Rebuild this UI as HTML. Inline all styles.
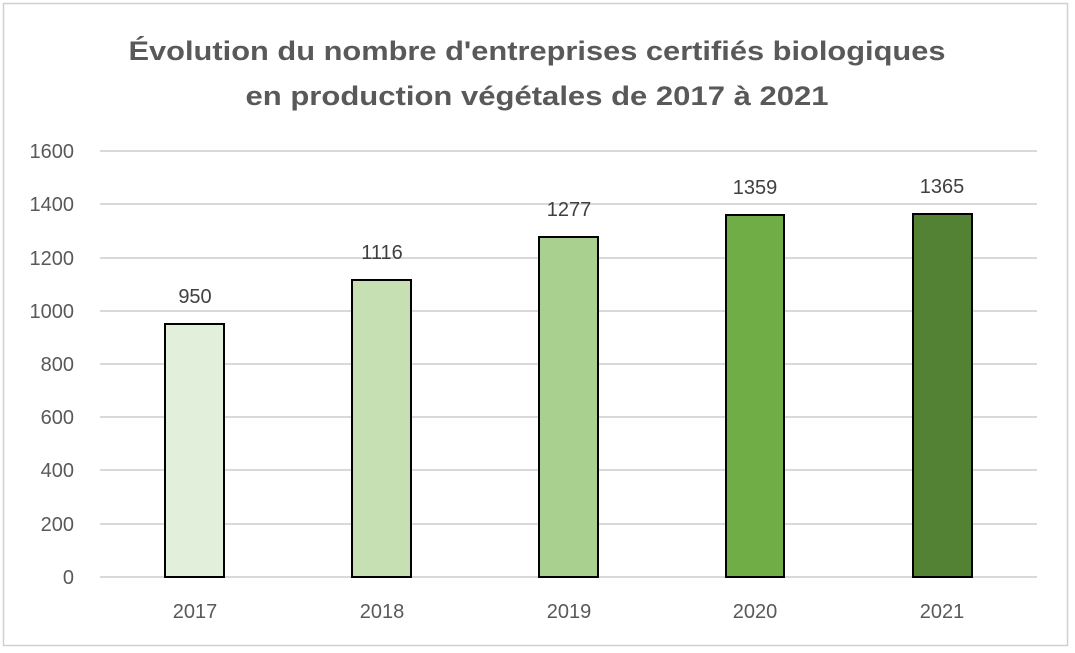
<!DOCTYPE html>
<html><head><meta charset="utf-8"><style>
body{margin:0;background:#fff;}
svg{display:block;font-family:"Liberation Sans",sans-serif;}
</style></head><body>
<svg width="1075" height="653" xmlns="http://www.w3.org/2000/svg">
<rect x="0" y="0" width="1075" height="653" fill="#fff"/>
<rect x="3.5" y="3.5" width="1064" height="642" fill="#fff" stroke="#d0d0d0" stroke-width="1.5"/>
<g fill="#595959" font-weight="bold" font-size="27" text-anchor="middle">
<text x="537" y="60" textLength="817" lengthAdjust="spacingAndGlyphs">Évolution du nombre d'entreprises certifiés biologiques</text>
<text x="537" y="105" textLength="583" lengthAdjust="spacingAndGlyphs">en production végétales de 2017 à 2021</text>
</g>
<g stroke="#d9d9d9" stroke-width="2">
<line x1="100" x2="1037" y1="151" y2="151"/>
<line x1="100" x2="1037" y1="204" y2="204"/>
<line x1="100" x2="1037" y1="258" y2="258"/>
<line x1="100" x2="1037" y1="311" y2="311"/>
<line x1="100" x2="1037" y1="364" y2="364"/>
<line x1="100" x2="1037" y1="417" y2="417"/>
<line x1="100" x2="1037" y1="470" y2="470"/>
<line x1="100" x2="1037" y1="524" y2="524"/>
<line x1="100" x2="1037" y1="577" y2="577"/>
</g>
<g fill="#595959" font-size="20" text-anchor="end">
<text x="74" y="158">1600</text>
<text x="74" y="211">1400</text>
<text x="74" y="265">1200</text>
<text x="74" y="318">1000</text>
<text x="74" y="371">800</text>
<text x="74" y="424">600</text>
<text x="74" y="477">400</text>
<text x="74" y="531">200</text>
<text x="74" y="584">0</text>
</g>
<g stroke="#000" stroke-width="2">
<rect x="165" y="324" width="59" height="253" fill="#E2EFDA"/>
<rect x="352" y="280" width="59" height="297" fill="#C6E0B4"/>
<rect x="539" y="237" width="59" height="340" fill="#A9D08E"/>
<rect x="726" y="215" width="58" height="362" fill="#70AD47"/>
<rect x="913" y="214" width="59" height="363" fill="#548235"/>
</g>
<g fill="#404040" font-size="20" text-anchor="middle">
<text x="195" y="303">950</text>
<text x="382" y="259">1116</text>
<text x="569" y="216">1277</text>
<text x="755" y="194">1359</text>
<text x="942" y="193">1365</text>
</g>
<g fill="#595959" font-size="20" text-anchor="middle">
<text x="195" y="618">2017</text>
<text x="382" y="618">2018</text>
<text x="569" y="618">2019</text>
<text x="755" y="618">2020</text>
<text x="942" y="618">2021</text>
</g>
</svg>
</body></html>
